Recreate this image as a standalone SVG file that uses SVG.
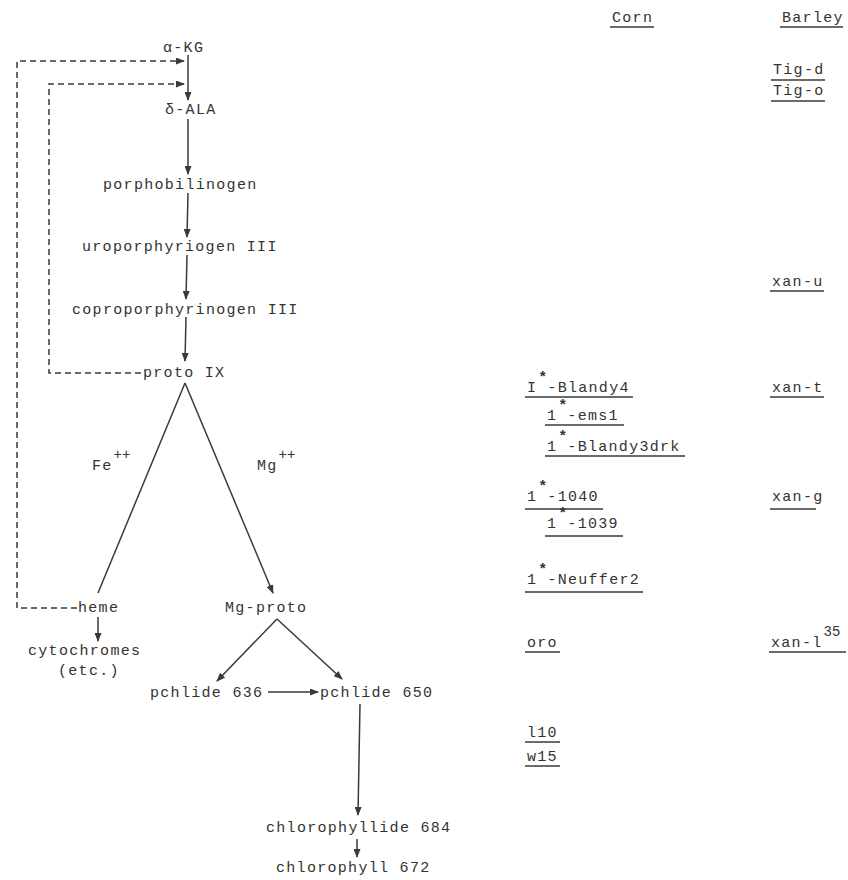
<svg xmlns="http://www.w3.org/2000/svg" width="848" height="880" viewBox="0 0 848 880">
<style>
text{font-family:"Liberation Mono","DejaVu Sans Mono",monospace;font-size:15px;letter-spacing:1.3px;fill:#333}
.sup{font-size:14px;letter-spacing:0}
.star{font-size:15px;letter-spacing:0;font-weight:bold}
.ln{stroke:#3a3a3a;stroke-width:1.5;fill:none}
.dash{stroke:#3a3a3a;stroke-width:1.5;fill:none;stroke-dasharray:6 4}
.ul{stroke:#3a3a3a;stroke-width:1.4}
</style>
<defs>
<marker id="ah" markerUnits="userSpaceOnUse" markerWidth="9" markerHeight="7" refX="8" refY="3.5" orient="auto">
<path d="M0,0 L9,3.5 L0,7 z" fill="#3a3a3a"/>
</marker>
</defs>
<rect width="848" height="880" fill="#fff"/>
<g id="connectors">
<line class="ln" x1="188" y1="55" x2="188" y2="100" marker-end="url(#ah)"/>
<line class="ln" x1="188" y1="119" x2="188" y2="174" marker-end="url(#ah)"/>
<line class="ln" x1="188" y1="193" x2="187" y2="237" marker-end="url(#ah)"/>
<line class="ln" x1="187" y1="255" x2="186" y2="299" marker-end="url(#ah)"/>
<line class="ln" x1="186" y1="317" x2="185" y2="361" marker-end="url(#ah)"/>
<line class="ln" x1="185" y1="383" x2="98" y2="593"/>
<line class="ln" x1="185" y1="383" x2="273" y2="593" marker-end="url(#ah)"/>
<line class="ln" x1="98" y1="617" x2="98" y2="641" marker-end="url(#ah)"/>
<line class="ln" x1="277" y1="619" x2="217" y2="681" marker-end="url(#ah)"/>
<line class="ln" x1="277" y1="619" x2="342" y2="679" marker-end="url(#ah)"/>
<line class="ln" x1="268" y1="692" x2="318" y2="692" marker-end="url(#ah)"/>
<line class="ln" x1="360" y1="704" x2="358" y2="815" marker-end="url(#ah)"/>
<line class="ln" x1="357" y1="839" x2="357" y2="857" marker-end="url(#ah)"/>
<path class="dash" d="M141,373 H49 V84 H184" marker-end="url(#ah)"/>
<path class="dash" d="M77,608 H17 V61 H184" marker-end="url(#ah)"/>
</g>
<g id="akg"><text x="163" y="52">α-KG</text></g>
<g id="ala"><text x="165" y="114">δ-ALA</text></g>
<g id="pbg"><text x="103" y="189">porphobilinogen</text></g>
<g id="uro"><text x="82" y="251">uroporphyriogen III</text></g>
<g id="copro"><text x="72" y="314">coproporphyrinogen III</text></g>
<g id="proto"><text x="143" y="377">proto IX</text></g>
<g id="fe"><text x="92" y="470">Fe<tspan class="sup" dx="1" dy="-11">++</tspan></text></g>
<g id="mg"><text x="257" y="470">Mg<tspan class="sup" dx="1" dy="-11">++</tspan></text></g>
<g id="heme"><text x="78" y="612">heme</text></g>
<g id="mgproto"><text x="225" y="612">Mg-proto</text></g>
<g id="cyto"><text x="28" y="655">cytochromes</text><text x="58" y="675">(etc.)</text></g>
<g id="pchl636"><text x="150" y="697">pchlide 636</text></g>
<g id="pchl650"><text x="320" y="697">pchlide 650</text></g>
<g id="chlide"><text x="266" y="832">chlorophyllide 684</text></g>
<g id="chl"><text x="276" y="872">chlorophyll 672</text></g>
<g id="corn-head"><text x="612" y="22">Corn</text><line class="ul" x1="610" y1="27" x2="654" y2="27"/></g>
<g id="barley-head"><text x="782" y="22">Barley</text><line class="ul" x1="780" y1="27" x2="843" y2="27"/></g>
<g id="tigd"><text x="773" y="74">Tig-d</text><line class="ul" x1="771" y1="80" x2="825" y2="80"/></g>
<g id="tigo"><text x="773" y="95">Tig-o</text><line class="ul" x1="771" y1="101" x2="825" y2="101"/></g>
<g id="xanu"><text x="772" y="286">xan-u</text><line class="ul" x1="770" y1="291" x2="824" y2="291"/></g>
<g id="xant"><text x="772" y="392">xan-t</text><line class="ul" x1="770" y1="397" x2="824" y2="397"/></g>
<g id="xang"><text x="772" y="501">xan-g</text><line class="ul" x1="770" y1="509" x2="816" y2="509"/></g>
<g id="xanl"><text x="771" y="647">xan-l<tspan class="sup" font-size="15" dx="1" dy="-11">35</tspan></text><line class="ul" x1="769" y1="652" x2="846" y2="652"/></g>
<g id="blandy4"><text x="527" y="392">I<tspan class="star" dx="1" dy="-10">*</tspan><tspan dy="10">-Blandy4</tspan></text><line class="ul" x1="525" y1="397" x2="633" y2="397"/></g>
<g id="ems1"><text x="547" y="420">1<tspan class="star" dx="1" dy="-10">*</tspan><tspan dy="10">-ems1</tspan></text><line class="ul" x1="545" y1="425" x2="624" y2="425"/></g>
<g id="blandy3"><text x="547" y="451">1<tspan class="star" dx="1" dy="-10">*</tspan><tspan dy="10">-Blandy3drk</tspan></text><line class="ul" x1="545" y1="456" x2="685" y2="456"/></g>
<g id="l1040"><text x="527" y="501">1<tspan class="star" dx="1" dy="-10">*</tspan><tspan dy="10">-1040</tspan></text><line class="ul" x1="525" y1="509" x2="603" y2="509"/></g>
<g id="l1039"><text x="547" y="528">1<tspan class="star" dx="1" dy="-10">*</tspan><tspan dy="10">-1039</tspan></text><line class="ul" x1="545" y1="536" x2="623" y2="536"/></g>
<g id="neuffer"><text x="527" y="584">1<tspan class="star" dx="1" dy="-10">*</tspan><tspan dy="10">-Neuffer2</tspan></text><line class="ul" x1="525" y1="592" x2="643" y2="592"/></g>
<g id="oro"><text x="527" y="647">oro</text><line class="ul" x1="525" y1="652" x2="560" y2="652"/></g>
<g id="l10"><text x="527" y="737">l10</text><line class="ul" x1="525" y1="742" x2="560" y2="742"/></g>
<g id="w15"><text x="527" y="761">w15</text><line class="ul" x1="525" y1="766" x2="560" y2="766"/></g>
</svg>
